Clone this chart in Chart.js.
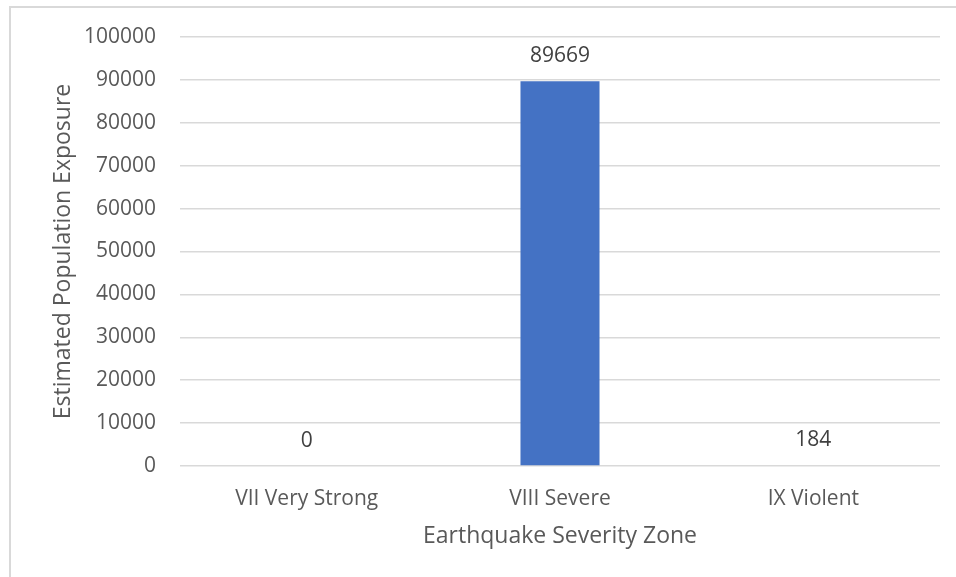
<!DOCTYPE html>
<html>
<head>
<meta charset="utf-8">
<script src="https://cdn.jsdelivr.net/npm/chart.js@4"></script>
<style>
  html, body { margin: 0; padding: 0; background: #fff; }
  #wrap { position: relative; width: 956px; height: 577px; overflow: hidden; }
  #frame {
    position: absolute; left: 9px; top: 6px; width: 1000px; height: 700px;
    border-top: 2px solid #d9d9d9; border-left: 2px solid #d9d9d9;
  }
  #myChart { position: absolute; left: 0; top: 0; }
</style>
</head>
<body>
<div id="wrap">
  <div id="frame"></div>
  <canvas id="myChart" width="956" height="577"></canvas>
</div>
<script>
const zones = ["VII Very Strong", "VIII Severe", "IX Violent"];
const exposure = [0, 89669, 184];
const yTicks = [0, 10000, 20000, 30000, 40000, 50000, 60000, 70000, 80000, 90000, 100000];

const FONT = "'Open Sans', sans-serif";

const barLabels = {
  id: "barLabels",
  afterDatasetsDraw(chart) {
    const ctx = chart.ctx;
    const meta = chart.getDatasetMeta(0);
    ctx.save();
    ctx.font = "21px " + FONT;
    ctx.fillStyle = "#404040";
    ctx.textAlign = "center";
    ctx.textBaseline = "middle";
    meta.data.forEach((bar, i) => {
      ctx.fillText(String(exposure[i]), bar.x, bar.y - 25);
    });
    ctx.restore();
  },
};

document.addEventListener("DOMContentLoaded", () => {
  const ctx = document.getElementById("myChart").getContext("2d");

  new Chart(ctx, {
    type: "bar",
    data: {
      labels: zones,
      datasets: [
        {
          data: exposure,
          backgroundColor: "#4472C4",
          borderWidth: 0,
          categoryPercentage: 1,
          barPercentage: 0.312,
        },
      ],
    },
    options: {
      responsive: false,
      animation: false,
      layout: {
        padding: { top: 37, right: 16, bottom: 0, left: 0 },
      },
      plugins: {
        legend: { display: false },
        tooltip: { enabled: false },
      },
      scales: {
        x: {
          afterFit: (s) => { s.height = 111; },
          grid: { display: false },
          border: { display: false },
          ticks: {
            color: "#595959",
            font: { family: FONT, size: 21 },
            padding: 12,
          },
          title: {
            display: true,
            text: "Earthquake Severity Zone",
            color: "#595959",
            font: { family: FONT, size: 23 },
            padding: { top: 0, bottom: 27 },
          },
        },
        y: {
          min: 0,
          max: 100000,
          afterFit: (s) => { s.width = 180; },
          afterBuildTicks: (s) => { s.ticks = yTicks.map((v) => ({ value: v })); },
          grid: {
            color: "#d9d9d9",
            lineWidth: 1.5,
            drawTicks: false,
          },
          border: { display: false },
          ticks: {
            color: "#595959",
            font: { family: FONT, size: 21 },
            padding: 24,
            callback: (v) => String(v),
          },
          title: {
            display: true,
            text: "Estimated Population Exposure",
            color: "#595959",
            font: { family: FONT, size: 23 },
            padding: { top: 50, bottom: 0 },
          },
        },
      },
    },
    plugins: [barLabels],
  });
});
</script>
</body>
</html>
